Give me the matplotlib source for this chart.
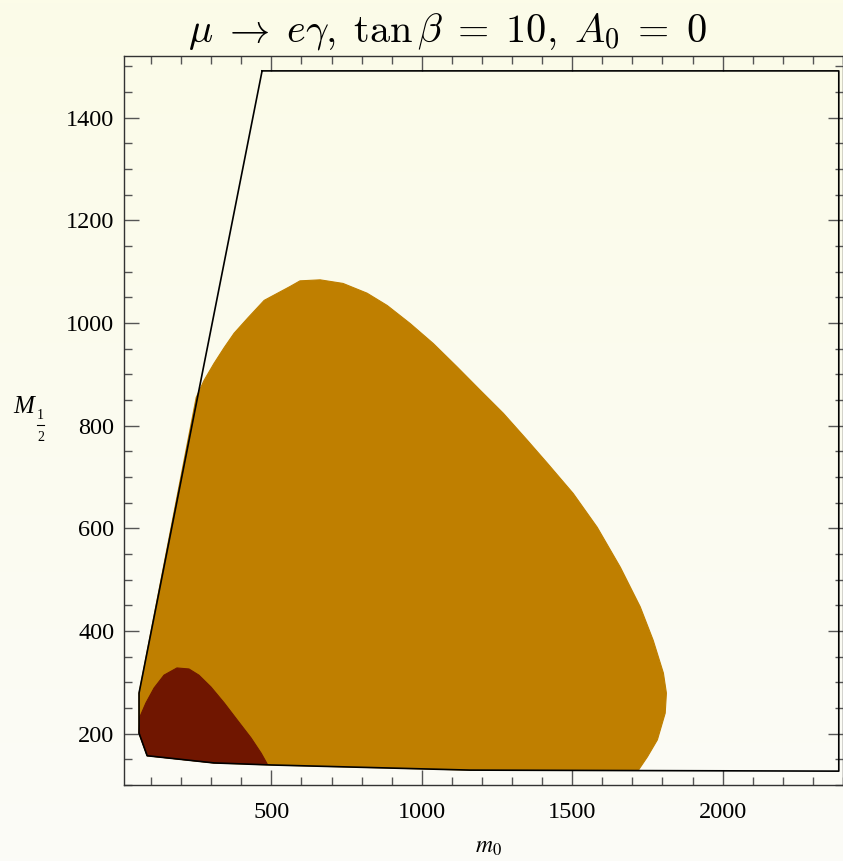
import numpy as np
import matplotlib.pyplot as plt
from matplotlib.ticker import MultipleLocator

# allowed region boundary (m0, M1/2)
bound_m0 = [469, 2386, 2386, 1161, 499, 309, 87, 60, 60]
bound_M = [1491, 1491, 127, 129, 139, 143, 157, 201, 279]

# orange region (larger contour), read along its edge
orange_m0 = [250, 276, 309, 343, 376, 422, 476, 562, 595, 662, 738, 818, 885, 961,
             1038, 1118, 1194, 1271, 1350, 1417, 1503, 1583, 1660, 1726, 1769, 1803,
             1813, 1809, 1783, 1750, 1720, 1161, 499, 309, 87, 60, 60]
orange_M = [855, 888, 921, 952, 980, 1010, 1044, 1071, 1082, 1084, 1077, 1058, 1034, 999,
            960, 914, 869, 824, 772, 727, 668, 602, 524, 447, 382, 318,
            279, 240, 188, 155, 129, 129, 139, 143, 157, 201, 279]

# dark red region (smaller contour)
red_m0 = [60, 63, 83, 110, 143, 186, 226, 259, 299, 343, 386, 432, 466, 486,
          309, 87, 60]
red_M = [201, 233, 260, 289, 314, 328, 326, 314, 291, 260, 227, 192, 162, 141,
         143, 157, 201]

fig = plt.figure(figsize=(8.43, 8.61), dpi=100)

# background gradient
bg = fig.add_axes([0, 0, 1, 1], zorder=-10)
top = np.array([252, 252, 232]) / 255.0
bot = np.array([251, 251, 247]) / 255.0
t = np.linspace(0, 1, 256)[:, None]
grad = top * (1 - t) + bot * t
bg.imshow(grad[:, None, :], aspect='auto', extent=[0, 1, 0, 1])
bg.axis('off')

ax = fig.add_axes([124 / 843, 76 / 861, 719 / 843, 729 / 861])
ax.patch.set_alpha(0)

ax.fill(orange_m0, orange_M, color='#bf7f00', lw=0.8, ec='#bf7f00')
ax.fill(red_m0, red_M, color='#701600', lw=0.8, ec='#701600')
ax.plot(bound_m0 + bound_m0[:1], bound_M + bound_M[:1], color='black', lw=1.2)

ax.set_xlim(10, 2400)
ax.set_ylim(100, 1520)

ax.xaxis.set_major_locator(MultipleLocator(500))
ax.xaxis.set_minor_locator(MultipleLocator(100))
ax.yaxis.set_major_locator(MultipleLocator(200))
ax.yaxis.set_minor_locator(MultipleLocator(50))
ax.tick_params(which='both', direction='in', top=True, right=True, color='#555555', width=1)
ax.tick_params(which='major', length=11, labelsize=17.5)
ax.tick_params(axis='x', which='major', pad=12)
ax.tick_params(axis='y', which='major', pad=7)
ax.tick_params(which='minor', length=6)
for lab in ax.get_xticklabels() + ax.get_yticklabels():
    lab.set_fontfamily('Liberation Serif')
for sp in ax.spines.values():
    sp.set_color('#333333')
    sp.set_linewidth(1)

fig.text(447 / 843, 1 - 31 / 861,
         r'$\mu\;\rightarrow\;e\gamma,\;\tan\beta\;=\;10,\;A_0\;=\;0$',
         ha='center', va='center', fontsize=29, math_fontfamily='cm')
fig.text(488 / 843, 1 - 846 / 861, r'$m_0$', ha='center', va='center', fontsize=17,
         math_fontfamily='stix')

# y label: M with a stacked 1/2 subscript
fig.text(24 / 843, 1 - 407 / 861, 'M', ha='center', va='center', fontsize=18,
         family='Liberation Serif', style='italic')
fig.text(40.5 / 843, 1 - 415 / 861, '1', ha='center', va='center', fontsize=10,
         family='Liberation Serif')
fig.text(40.5 / 843, 1 - 437 / 861, '2', ha='center', va='center', fontsize=10,
         family='Liberation Serif')
fig.add_artist(plt.Line2D([37 / 843, 44 / 843], [1 - 425 / 861, 1 - 425 / 861],
                          color='black', lw=0.8))

fig.savefig('out.png', dpi=100)
